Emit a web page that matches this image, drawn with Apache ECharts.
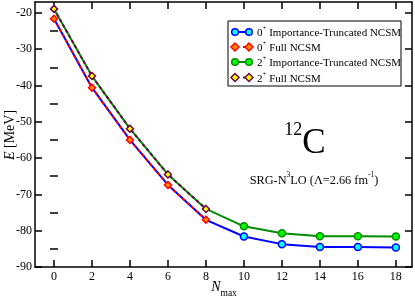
<!DOCTYPE html>
<html>
<head>
<meta charset="utf-8">
<script src="https://cdn.jsdelivr.net/npm/echarts@6/dist/echarts.min.js"></script>
<style>
html,body{margin:0;padding:0;background:#fff;}
#c{width:415px;height:298px;}
</style>
</head>
<body>
<div id="c"></div>
<script>
// ---- data ----
var nmax = [0, 2, 4, 6, 8, 10, 12, 14, 16, 18];
var nmaxFull = [0, 2, 4, 6, 8];
var it0 = [-21.6, -40.6, -55.0, -67.4, -77.0, -81.6, -83.7, -84.5, -84.5, -84.6];
var full0 = [-21.6, -40.6, -55.0, -67.4, -77.0];
var it2 = [-18.9, -37.4, -51.9, -64.5, -74.0, -78.8, -80.7, -81.5, -81.5, -81.6];
var full2 = [-18.9, -37.4, -51.9, -64.5, -74.0];
var xTicks = [0, 2, 4, 6, 8, 10, 12, 14, 16, 18];
var yTicks = [-90, -80, -70, -60, -50, -40, -30, -20];
var yMinor = [-85, -75, -65, -55, -45, -35, -25];

var SERIF = '"Liberation Serif", "Times New Roman", serif';
var BLACK = '#000';

function pairs(xs, ys, hideIdx) {
  return xs.map(function (x, i) {
    var d = { value: [x, ys[i]] };
    if (hideIdx && hideIdx(x)) d.symbol = 'none';
    return d;
  });
}
var hasFull = function (x) { return nmaxFull.indexOf(x) >= 0; };

var chart = echarts.init(document.getElementById('c'), null, { renderer: 'canvas' });

var grid = { left: 35, right: 3, top: 2, bottom: 31, containLabel: false, outerBoundsMode: 'none' };
var XMIN = -1, XMAX = 18.85, YMIN = -90, YMAX = -17;

function legendItem(y, lineColor, dashed, symbol, fill, border, sup, label) {
  var els = [];
  els.push({
    type: 'line', shape: { x1: 235, y1: y, x2: 249, y2: y },
    style: { stroke: lineColor, lineWidth: 2, lineDash: dashed ? [3, 5] : null }, z: 10
  });
  [235, 249].forEach(function (cx) {
    if (symbol === 'circle') {
      els.push({ type: 'circle', shape: { cx: cx, cy: y, r: 3.3 },
        style: { fill: fill, stroke: border, lineWidth: 1.5 }, z: 11 });
    } else {
      els.push({ type: 'polygon', shape: { points: [[cx, y - 4], [cx + 4, y], [cx, y + 4], [cx - 4, y]] },
        style: { fill: fill, stroke: border, lineWidth: 1.5 }, z: 11 });
    }
  });
  els.push({
    type: 'text', x: 257, y: y, z: 11,
    style: {
      text: '{n|' + sup.base + '}{s|' + sup.sup + '}{n| ' + label + '}',
      textVerticalAlign: 'middle', textAlign: 'left',
      rich: {
        n: { fontFamily: SERIF, fontSize: 11, fill: BLACK, verticalAlign: 'bottom', lineHeight: 14 },
        s: { fontFamily: SERIF, fontSize: 7, fill: BLACK, verticalAlign: 'top', lineHeight: 14 }
      }
    }
  });
  return els;
}

var graphics = [
  { type: 'rect', shape: { x: 228, y: 21, width: 173, height: 65 },
    style: { fill: '#fff', stroke: BLACK, lineWidth: 1 }, z: 9 }
];
graphics = graphics
  .concat(legendItem(32, '#0000ff', false, 'circle', '#00ffff', '#0000ff', { base: '0', sup: '+' }, 'Importance-Truncated NCSM'))
  .concat(legendItem(47, '#ff0000', true, 'diamond', '#ff8c00', '#ff0000', { base: '0', sup: '+' }, 'Full NCSM'))
  .concat(legendItem(62, '#008b00', false, 'circle', '#00ff00', '#008b00', { base: '2', sup: '+' }, 'Importance-Truncated NCSM'))
  .concat(legendItem(77.5, '#670748', true, 'diamond', '#ffff00', '#670748', { base: '2', sup: '+' }, 'Full NCSM'));

graphics.push({
  type: 'text', x: 305, y: 141, z: 11,
  style: {
    text: '{n|12}{c|C}', textAlign: 'center', textVerticalAlign: 'middle',
    rich: {
      n: { fontFamily: SERIF, fontSize: 18, fill: BLACK, verticalAlign: 'top', lineHeight: 40 },
      c: { fontFamily: SERIF, fontSize: 35, fill: BLACK, verticalAlign: 'bottom', lineHeight: 40 }
    }
  }
});
graphics.push({
  type: 'text', x: 314, y: 179, z: 11,
  style: {
    text: '{n|SRG-N}{s|3}{n|LO (Λ=2.66 fm}{s|-1}{n|)}', textAlign: 'center', textVerticalAlign: 'middle',
    rich: {
      n: { fontFamily: SERIF, fontSize: 12.3, fill: BLACK, verticalAlign: 'bottom', lineHeight: 15 },
      s: { fontFamily: SERIF, fontSize: 7.5, fill: BLACK, verticalAlign: 'top', lineHeight: 15 }
    }
  }
});
// axis titles
graphics.push({
  type: 'text', x: 10, y: 135, rotation: Math.PI / 2, z: 11,
  style: {
    text: '{i|E} [MeV]', textAlign: 'center', textVerticalAlign: 'middle',
    rich: {
      i: { fontFamily: SERIF, fontStyle: 'italic', fontSize: 14, fill: BLACK },
      r: { fontFamily: SERIF, fontSize: 14, fill: BLACK }
    },
    fontFamily: SERIF, fontSize: 14, fill: BLACK
  }
});
graphics.push({
  type: 'text', x: 224, y: 289, z: 11,
  style: {
    text: '{i|N}{s|max}', textAlign: 'center', textVerticalAlign: 'middle',
    rich: {
      i: { fontFamily: SERIF, fontStyle: 'italic', fontSize: 14, fill: BLACK, verticalAlign: 'top', lineHeight: 18 },
      s: { fontFamily: SERIF, fontSize: 9.5, fill: BLACK, verticalAlign: 'bottom', lineHeight: 18 }
    }
  }
});

var option = {
  backgroundColor: '#fff',
  animation: false,
  grid: grid,
  xAxis: [
    {
      type: 'value', position: 'bottom', min: XMIN, max: XMAX,
      axisLine: { show: true, onZero: false, lineStyle: { color: BLACK, width: 1.5 } },
      axisTick: { show: true, inside: true, length: 7, customValues: xTicks, lineStyle: { color: BLACK, width: 1.5 } },
      axisLabel: { show: true, customValues: xTicks, fontFamily: SERIF, fontSize: 12, color: BLACK, margin: 4 },
      splitLine: { show: false }
    },
    {
      type: 'value', position: 'top', min: XMIN, max: XMAX,
      axisLine: { show: true, onZero: false, lineStyle: { color: BLACK, width: 1.5 } },
      axisTick: { show: true, inside: true, length: 7, customValues: xTicks, lineStyle: { color: BLACK, width: 1.5 } },
      axisLabel: { show: false },
      splitLine: { show: false }
    }
  ],
  yAxis: [
    {
      type: 'value', position: 'left', min: YMIN, max: YMAX,
      axisLine: { show: true, onZero: false, lineStyle: { color: BLACK, width: 1.5 } },
      axisTick: { show: true, inside: true, length: 7, customValues: yTicks, lineStyle: { color: BLACK, width: 1.5 } },
      axisLabel: { show: true, customValues: yTicks, fontFamily: SERIF, fontSize: 12, color: BLACK, margin: 3 },
      splitLine: { show: false }
    },
    {
      type: 'value', position: 'right', min: YMIN, max: YMAX,
      axisLine: { show: true, onZero: false, lineStyle: { color: BLACK, width: 1.5 } },
      axisTick: { show: true, inside: true, length: 7, customValues: yTicks, lineStyle: { color: BLACK, width: 1.5 } },
      axisLabel: { show: false },
      splitLine: { show: false }
    },
    {
      type: 'value', position: 'left', offset: 0, min: YMIN, max: YMAX,
      axisLine: { show: false },
      axisTick: { show: true, inside: true, length: 4, customValues: yMinor, lineStyle: { color: BLACK, width: 1.5 } },
      axisLabel: { show: false },
      splitLine: { show: false }
    },
    {
      type: 'value', position: 'right', offset: 0, min: YMIN, max: YMAX,
      axisLine: { show: false },
      axisTick: { show: true, inside: true, length: 4, customValues: yMinor, lineStyle: { color: BLACK, width: 1.5 } },
      axisLabel: { show: false },
      splitLine: { show: false }
    }
  ],
  series: [
    {
      name: '0+ Importance-Truncated NCSM', type: 'line', xAxisIndex: 0, yAxisIndex: 0,
      data: pairs(nmax, it0, hasFull), symbol: 'circle', symbolSize: 7, showAllSymbol: true,
      lineStyle: { color: '#0000ff', width: 2 },
      itemStyle: { color: '#00ffff', borderColor: '#0000ff', borderWidth: 1.5 }, z: 2
    },
    {
      name: '0+ Full NCSM', type: 'line', xAxisIndex: 0, yAxisIndex: 0,
      data: pairs(nmaxFull, full0), symbol: 'diamond', symbolSize: 7, showAllSymbol: true,
      lineStyle: { color: '#ff0000', width: 2, type: [3, 3] },
      itemStyle: { color: '#ff8c00', borderColor: '#ff0000', borderWidth: 1.5 }, z: 3
    },
    {
      name: '2+ Importance-Truncated NCSM', type: 'line', xAxisIndex: 0, yAxisIndex: 0,
      data: pairs(nmax, it2, hasFull), symbol: 'circle', symbolSize: 7, showAllSymbol: true,
      lineStyle: { color: '#008b00', width: 2 },
      itemStyle: { color: '#00ff00', borderColor: '#008b00', borderWidth: 1.5 }, z: 4
    },
    {
      name: '2+ Full NCSM', type: 'line', xAxisIndex: 0, yAxisIndex: 0,
      data: pairs(nmaxFull, full2), symbol: 'diamond', symbolSize: 7, showAllSymbol: true,
      lineStyle: { color: '#670748', width: 2, type: [3, 3] },
      itemStyle: { color: '#ffff00', borderColor: '#670748', borderWidth: 1.5 }, z: 5
    }
  ],
  graphic: graphics
};
chart.setOption(option);
</script>
</body>
</html>
